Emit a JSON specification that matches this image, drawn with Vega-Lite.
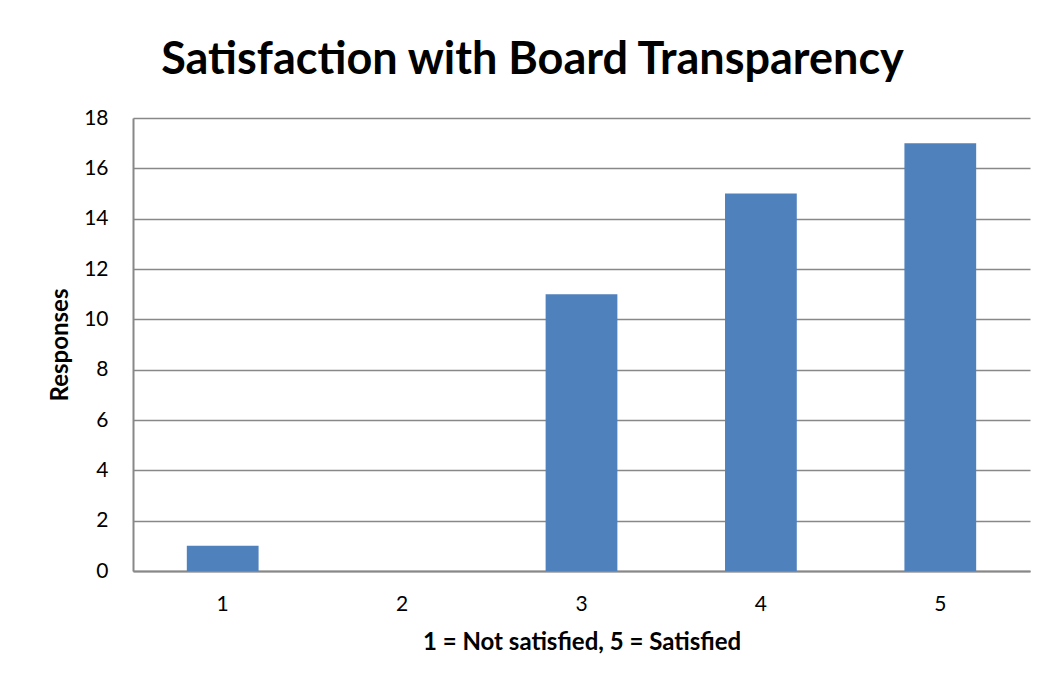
{
  "$schema": "https://vega.github.io/schema/vega-lite/v6.json",
  "width": 897,
  "height": 453,
  "autosize": {"type": "none"},
  "padding": {"left": 133, "top": 118, "right": 17, "bottom": 118},
  "background": "white",
  "config": {
    "font": "Lato",
    "view": {"stroke": null}
  },
  "title": {
    "text": "Satisfaction with Board Transparency",
    "font": "Lato",
    "fontSize": 45,
    "fontWeight": "bold",
    "color": "#000000",
    "anchor": "middle",
    "dx": -49,
    "offset": 24
  },
  "data": {
    "values": [
      {"rating": "1", "responses": 1},
      {"rating": "2", "responses": 0},
      {"rating": "3", "responses": 11},
      {"rating": "4", "responses": 15},
      {"rating": "5", "responses": 17}
    ]
  },
  "mark": {"type": "bar", "color": "#4F81BD"},
  "encoding": {
    "x": {
      "field": "rating",
      "type": "ordinal",
      "scale": {"paddingInner": 0.6, "paddingOuter": 0.3},
      "axis": {
        "title": "1 = Not satisfied, 5 = Satisfied",
        "titleFont": "Lato",
        "titleFontSize": 24,
        "titleFontWeight": "bold",
        "titleColor": "#000000",
        "titlePadding": 16,
        "labelAngle": 0,
        "labelFontSize": 21,
        "labelColor": "#000000",
        "labelPadding": 22,
        "ticks": false,
        "domainColor": "#888888",
        "domainWidth": 2
      }
    },
    "y": {
      "field": "responses",
      "type": "quantitative",
      "scale": {"domain": [0, 18], "nice": false},
      "axis": {
        "title": "Responses",
        "titleFont": "Lato",
        "titleFontSize": 24,
        "titleFontWeight": "bold",
        "titleColor": "#000000",
        "titlePadding": 11,
        "values": [0, 2, 4, 6, 8, 10, 12, 14, 16, 18],
        "labelFontSize": 21,
        "labelColor": "#000000",
        "labelPadding": 25,
        "ticks": false,
        "grid": true,
        "gridColor": "#888888",
        "gridWidth": 1.5,
        "domainColor": "#888888",
        "domainWidth": 2
      }
    }
  }
}
